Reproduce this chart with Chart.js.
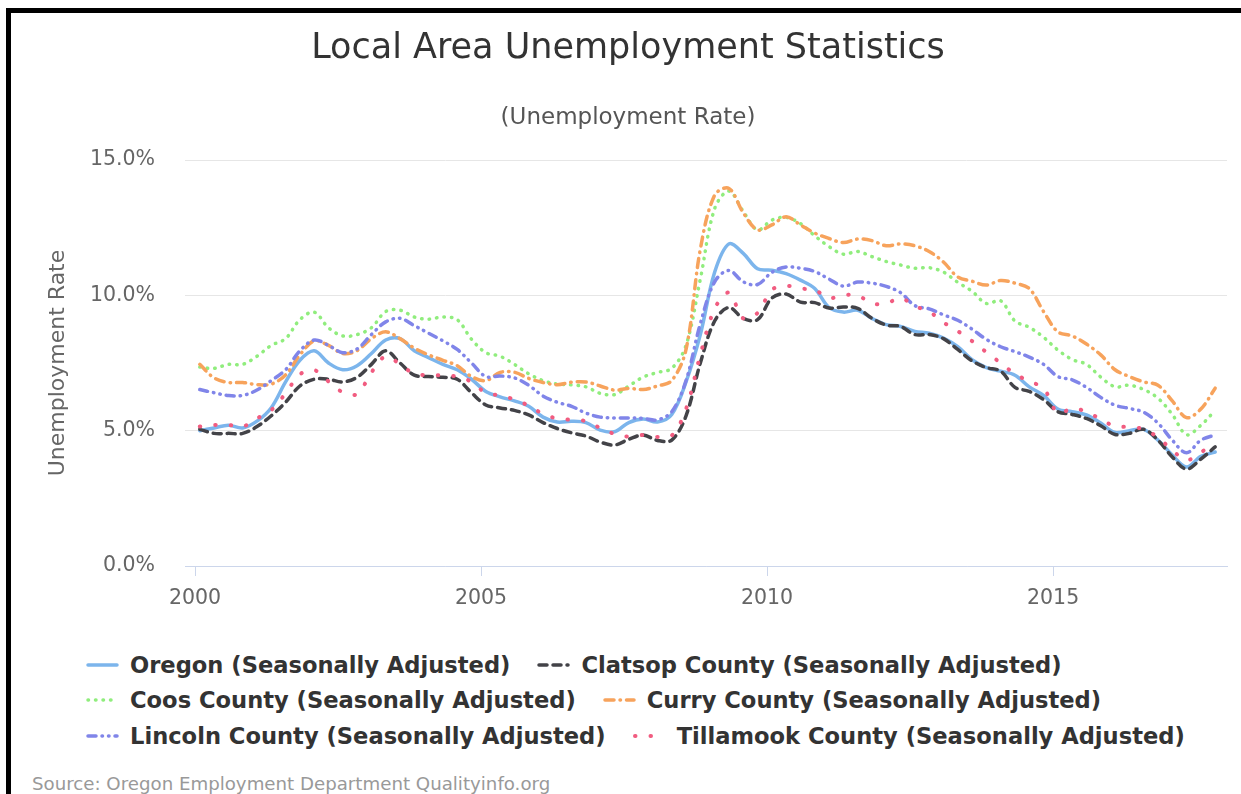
<!DOCTYPE html>
<html>
<head>
<meta charset="utf-8">
<title>Local Area Unemployment Statistics</title>
<script src="https://cdn.jsdelivr.net/npm/chart.js@4.4.1/dist/chart.umd.min.js"></script>
<style>
  body { margin: 0; background: #fff; font-family: 'DejaVu Sans', sans-serif; }
  #wrap { position: relative; width: 1241px; height: 794px; overflow: hidden; }
  #frame { position: absolute; left: 6px; top: 8px; right: -10px; bottom: -10px;
           border-left: 5px solid #000; border-top: 5px solid #000; pointer-events: none; z-index: 3; }
  #chart { position: absolute; left: 0; top: 0; }
  .title { position: absolute; left: 0; width: 1256px; text-align: center; }
  #t1 { top: 25px; font-size: 35px; line-height: 42px; color: #333; }
  #t2 { top: 102px; font-size: 23px; line-height: 28px; color: #555; }
  #legend { position: absolute; left: 86px; top: 647px; }
  .row { display: flex; height: 35.5px; align-items: center; }
  .item { display: flex; align-items: center; margin-right: 27px; font-weight: bold;
          font-size: 22.6px; color: #333; white-space: nowrap; }
  .item svg { margin-right: 11px; }
  #source { position: absolute; left: 32px; top: 773px; font-size: 18.2px; line-height: 22px; color: #999; }
</style>
</head>
<body>
<div id="wrap">
  <canvas id="chart"></canvas>
  <div class="title" id="t1">Local Area Unemployment Statistics</div>
  <div class="title" id="t2">(Unemployment Rate)</div>
  <div id="legend"></div>
  <div id="source">Source: Oregon Employment Department Qualityinfo.org</div>
  <div id="frame"></div>
</div>
<script>
// quarterly readings, Feb 2000 .. Nov 2017 (Feb, May, Aug, Nov)
const startYear = 2000, startMonth = 2, stepMonths = 3;

const oregon = [5.0,5.1,5.2,5.1, 5.35,5.85,6.8,7.6, 7.95,7.5,7.25,7.4, 7.85,8.35,8.4,7.95,
  7.7,7.45,7.25,6.9, 6.45,6.25,6.1,5.9, 5.5,5.32,5.35,5.3, 5.02,4.96,5.3,5.43,
  5.32,5.6,6.8,8.55, 10.85,11.9,11.55,10.98, 10.93,10.8,10.56,10.25, 9.55,9.38,9.45,9.15,
  8.92,8.85,8.67,8.6, 8.42,8.1,7.62,7.33, 7.2,7.05,6.62,6.3, 5.8,5.7,5.58,5.28,
  4.93,5.0,5.05,4.65, 4.1,3.66,4.05,4.21];
const clatsop = [5.05,4.9,4.9,4.9, 5.15,5.55,6.05,6.65, 6.9,6.9,6.8,6.97, 7.45,7.95,7.5,7.05,
  7.0,6.97,6.9,6.4, 5.95,5.84,5.75,5.58, 5.3,5.08,4.92,4.8, 4.58,4.47,4.68,4.84,
  4.64,4.65,5.55,7.5, 9.05,9.55,9.15,9.1, 9.9,10.05,9.75,9.73, 9.53,9.57,9.52,9.15,
  8.9,8.85,8.55,8.55, 8.4,8.0,7.58,7.33, 7.2,6.6,6.45,6.15, 5.7,5.6,5.45,5.18,
  4.86,4.9,5.05,4.65, 4.03,3.58,3.95,4.4];
const coos = [7.35,7.3,7.45,7.45, 7.75,8.15,8.4,9.1, 9.38,8.8,8.5,8.55, 8.8,9.4,9.45,9.2,
  9.12,9.2,9.1,8.38, 7.88,7.75,7.45,7.1, 6.85,6.72,6.69,6.62, 6.38,6.33,6.65,6.98,
  7.15,7.3,8.15,10.6, 13.2,13.85,13.1,12.42, 12.78,12.88,12.65,12.2, 11.8,11.52,11.62,11.43,
  11.25,11.12,11.0,11.02, 10.86,10.48,10.15,9.7, 9.8,9.05,8.82,8.45, 7.98,7.63,7.45,6.98,
  6.62,6.68,6.52,6.2, 5.6,4.85,5.2,5.75];
const curry = [7.45,6.95,6.78,6.78, 6.7,6.72,7.06,7.8, 8.32,8.15,7.85,7.96, 8.4,8.65,8.4,8.05,
  7.8,7.6,7.4,7.0, 6.85,7.15,7.16,6.93, 6.78,6.7,6.79,6.8, 6.65,6.5,6.56,6.52,
  6.65,6.85,8.0,11.7, 13.7,13.95,13.05,12.42, 12.6,12.9,12.6,12.3, 12.1,11.95,12.08,12.02,
  11.83,11.9,11.83,11.62, 11.23,10.68,10.52,10.38, 10.55,10.45,10.25,9.4, 8.65,8.5,8.2,7.8,
  7.25,7.0,6.8,6.68, 6.1,5.48,5.8,6.57];
const lincoln = [6.52,6.4,6.3,6.3, 6.5,6.85,7.25,7.95, 8.35,8.15,7.88,8.02, 8.55,9.02,9.15,8.88,
  8.6,8.32,8.0,7.5, 7.0,7.02,6.95,6.68, 6.28,6.05,5.9,5.65, 5.5,5.47,5.47,5.45,
  5.4,5.7,6.85,8.95, 10.5,10.92,10.5,10.4, 10.85,11.05,11.0,10.88, 10.6,10.34,10.49,10.45,
  10.33,10.1,9.62,9.5, 9.28,9.08,8.75,8.37, 8.1,7.92,7.72,7.45, 7.0,6.88,6.6,6.23,
  5.94,5.82,5.68,5.28, 4.65,4.18,4.65,4.84];
const tillamook = [5.15,5.21,5.21,5.15, 5.45,5.76,6.38,7.08, 7.24,6.82,6.42,6.35, 7.15,7.75,7.45,7.1,
  7.06,7.04,7.0,6.8, 6.4,6.3,6.15,5.92, 5.62,5.45,5.4,5.35, 5.1,4.88,4.78,4.84,
  4.77,4.82,5.8,7.8, 9.5,10.1,9.15,9.35, 10.2,10.35,10.25,10.2, 9.9,10.0,10.0,9.7,
  9.7,9.9,9.6,9.4, 9.0,8.68,8.31,7.9, 7.5,7.1,6.82,6.57, 5.65,5.82,5.7,5.42,
  5.16,5.14,5.05,4.75, 4.28,3.91,4.2,4.54];

const seriesNames = ['Oregon (Seasonally Adjusted)', 'Clatsop County (Seasonally Adjusted)',
  'Coos County (Seasonally Adjusted)', 'Curry County (Seasonally Adjusted)',
  'Lincoln County (Seasonally Adjusted)', 'Tillamook County (Seasonally Adjusted)'];
const seriesValues = [oregon, clatsop, coos, curry, lincoln, tillamook];
const xTicks = [2000, 2005, 2010, 2015];
const yTicks = [0, 5, 10, 15];

const colors = ['#7cb5ec', '#434348', '#90ed7d', '#f7a35c', '#8085e9', '#f15c80'];
const dashes = [[], [8, 6], [0.5, 7], [9, 6, 0.5, 6], [8, 6, 0.5, 6, 0.5, 6], [0.5, 15]];
const widths = [3.5, 3.5, 3.5, 3.5, 3.5, 4];

const dates = oregon.map((_, i) => startYear + (startMonth - 1 + i * stepMonths) / 12);

const datasets = seriesValues.map((vals, i) => ({
  label: seriesNames[i],
  data: vals.map((v, j) => ({ x: dates[j], y: v })),
  borderColor: colors[i],
  backgroundColor: colors[i],
  borderWidth: widths[i],
  borderDash: dashes[i],
  borderCapStyle: 'round',
  borderJoinStyle: 'round',
  pointRadius: 0,
  tension: 0.35,
  fill: false,
  order: seriesValues.length - i
}));

const canvas = document.getElementById('chart');
canvas.style.width = '1241px';
canvas.style.height = '626px';

const font = 'DejaVu Sans';

new Chart(canvas, {
  type: 'line',
  data: { datasets },
  options: {
    responsive: false,
    animation: false,
    devicePixelRatio: 1,
    layout: { padding: { top: 160, right: 14, left: 0, bottom: 0 } },
    plugins: {
      legend: { display: false },
      tooltip: { enabled: false }
    },
    scales: {
      x: {
        type: 'linear',
        min: 1999.825,
        max: 2018.04,
        afterBuildTicks: s => { s.ticks = xTicks.map(v => ({ value: v })); },
        afterFit: s => { s.height = 60; },
        ticks: { color: '#666', font: { family: font, size: 20.5 }, padding: 10,
                 maxRotation: 0, callback: v => String(v) },
        grid: { drawOnChartArea: false, drawTicks: true, tickLength: 10, color: '#ccd6eb' },
        border: { display: true, color: '#ccd6eb', width: 1 }
      },
      y: {
        min: 0,
        max: 15,
        afterBuildTicks: s => { s.ticks = yTicks.map(v => ({ value: v })); },
        afterFit: s => { s.width = 185; },
        ticks: { color: '#666', font: { family: font, size: 20.5 }, padding: 30,
                 callback: v => v.toFixed(1) + '%' },
        grid: { color: '#e6e6e6', lineWidth: 1, drawTicks: false },
        border: { display: false },
        title: { display: true, text: 'Unemployment Rate', color: '#666',
                 font: { family: font, size: 22 }, padding: { top: 45, bottom: 0 } }
      }
    }
  }
});

// legend, two items per row like the original
const legend = document.getElementById('legend');
for (let r = 0; r < 3; r++) {
  const row = document.createElement('div');
  row.className = 'row';
  for (let i = r * 2; i < r * 2 + 2; i++) {
    const item = document.createElement('div');
    item.className = 'item';
    const dash = dashes[i].length ? dashes[i].join(' ') : 'none';
    item.innerHTML = '<svg width="33" height="14"><line x1="2" y1="7" x2="31" y2="7" stroke="' + colors[i] +
      '" stroke-width="' + widths[i] + '" stroke-linecap="round" stroke-dasharray="' + dash + '"/></svg>';
    const txt = document.createElement('span');
    txt.textContent = seriesNames[i];
    item.appendChild(txt);
    row.appendChild(item);
  }
  legend.appendChild(row);
}
</script>
</body>
</html>
